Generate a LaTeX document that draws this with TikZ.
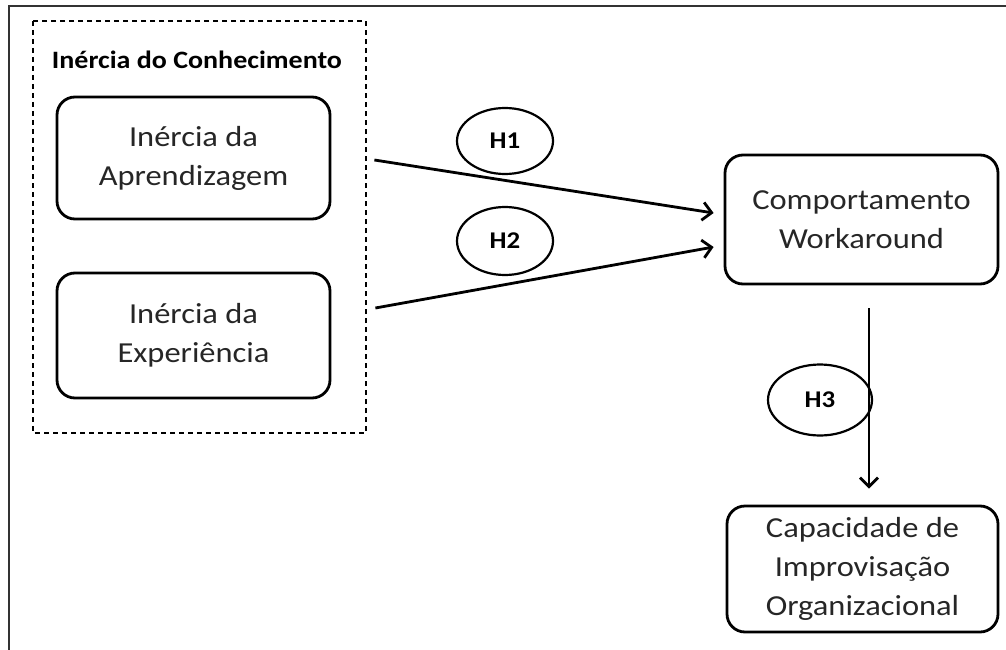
\documentclass[tikz,border=0pt]{standalone}
\usepackage{fontspec}
\setmainfont{Carlito}[FakeStretch=1.12]
\usetikzlibrary{arrows.meta,shapes.geometric,calc}
\definecolor{txt}{HTML}{262626}
\begin{document}
\begin{tikzpicture}[x=1pt,y=-1pt,
  rbox/.style={draw=black,line width=2.8pt,rounded corners=18pt,align=center,text=txt,
    font=\fontsize{29}{39}\selectfont,inner sep=0pt},
  hell/.style={draw=black,ellipse,line width=2.2pt,inner sep=0pt,font=\bfseries\fontsize{24}{28}\selectfont},
  arr/.style={line width=2.8pt,-{Straight Barb[length=9pt,width=18pt]}},
  dashbox/.style={draw=black,dash pattern=on 5pt off 4pt,line width=1.4pt}]
\useasboundingbox (0,0) rectangle (1006,650);
% outer frame
\draw[line width=2.2pt,draw=black!80] (9,655) -- (9,6) -- (1010,6);
% dashed group
\draw[dashbox] (33,21) rectangle (366,433);
\node[font=\bfseries\fontsize{25}{30}\selectfont,text=black] (title) at (197,60) {Inércia do Conhecimento};
\node[rbox,minimum width=273pt,minimum height=122pt] (ia) at (193.5,158) {Inércia da\\Aprendizagem};
\node[rbox,minimum width=273pt,minimum height=125pt] (ie) at (193.5,335.5) {Inércia da\\Experiência};
\node[rbox,minimum width=273pt,minimum height=129pt] (comp) at (861.5,219.5) {Comportamento\\Workaround};
\node[rbox,minimum width=271pt,minimum height=126pt] (cap) at (862.5,569) {Capacidade de\\Improvisação\\Organizacional};
\node[hell,minimum width=96pt,minimum height=66pt] (h1) at (505,141) {H1};
\node[hell,minimum width=96pt,minimum height=68pt] (h2) at (505,241) {H2};
\node[hell,minimum width=104pt,minimum height=71pt] (h3) at (820,400) {H3};
% connector ends
\coordinate (h1s) at ($(ia.east)+(43,2)$);
\coordinate (h1e) at ($(comp.west)+(-10,-6.5)$);
\coordinate (h2s) at ($(ie.east)+(44,-27.5)$);
\coordinate (h2e) at ($(comp.west)+(-10,27.5)$);
\coordinate (h3s) at ($(comp.south)+(7.5,23)$);
\coordinate (h3e) at ($(cap.north)+(6.5,-16)$);
\draw[arr] (h1s) -- (h1e);
\draw[arr] (h2s) -- (h2e);
\draw[arr] (h3s) -- (h3e);
\end{tikzpicture}
\end{document}
